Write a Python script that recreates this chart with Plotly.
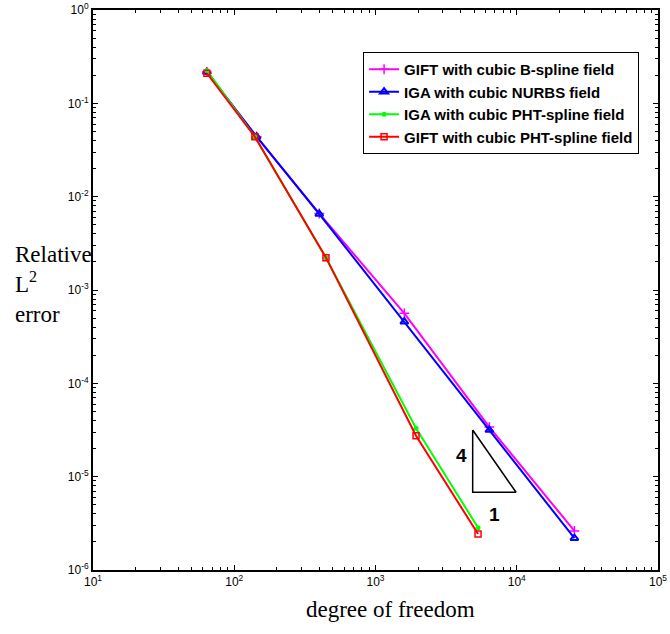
import plotly.graph_objects as go

# ---- data ----
dof_bspline = [64, 144, 400, 1600, 6400, 25600]
err_gift_bspline = [0.216, 0.0439, 6.6e-3, 5.62e-4, 3.40e-5, 2.62e-6]

dof_nurbs = [64, 144, 400, 1600, 6400, 25600]
err_iga_nurbs = [0.216, 0.0439, 6.52e-3, 4.57e-4, 3.16e-5, 2.19e-6]

dof_pht = [64, 140, 446, 1936, 5320]
err_iga_pht = [0.225, 0.0439, 2.22e-3, 3.30e-5, 2.84e-6]
err_gift_pht = [0.210, 0.0439, 2.22e-3, 2.75e-5, 2.43e-6]

names = ["GIFT with cubic B-spline field", "IGA with cubic NURBS field",
         "IGA with cubic PHT-spline field", "GIFT with cubic PHT-spline field"]

# slope triangle (data coordinates)
tri_x = [4875, 4875, 9886, 4875]
tri_y = [3.16e-5, 6.8e-6, 6.8e-6, 3.16e-5]

x_major = [10, 100, 1000, 10000, 100000]
x_labels = ["10<sup>1</sup>", "10<sup>2</sup>", "10<sup>3</sup>", "10<sup>4</sup>", "10<sup>5</sup>"]
y_major = [1e-6, 1e-5, 1e-4, 1e-3, 1e-2, 1e-1, 1]
y_labels = ["10<sup>-6</sup>", "10<sup>-5</sup>", "10<sup>-4</sup>", "10<sup>-3</sup>",
            "10<sup>-2</sup>", "10<sup>-1</sup>", "10<sup>0</sup>"]

x_minor = [m * d for d in [10, 100, 1000, 10000] for m in range(2, 10)]
y_minor = [m * d for d in [1e-6, 1e-5, 1e-4, 1e-3, 1e-2, 1e-1] for m in range(2, 10)]

fig = go.Figure()

fig.add_trace(go.Scatter(x=dof_bspline, y=err_gift_bspline, name=names[0], mode="lines+markers",
                         line=dict(color="#ff00ff", width=2),
                         marker=dict(symbol="cross-thin", size=7, line=dict(color="#ff00ff", width=1.5))))
fig.add_trace(go.Scatter(x=dof_nurbs, y=err_iga_nurbs, name=names[1], mode="lines+markers",
                         line=dict(color="#0000ff", width=2),
                         marker=dict(symbol="triangle-up-open", size=7, line=dict(color="#0000ff", width=2))))
fig.add_trace(go.Scatter(x=dof_pht, y=err_iga_pht, name=names[2], mode="lines+markers",
                         line=dict(color="#00ff00", width=2),
                         marker=dict(symbol="circle", size=5, color="#00ff00")))
fig.add_trace(go.Scatter(x=dof_pht, y=err_gift_pht, name=names[3], mode="lines+markers",
                         line=dict(color="#ff0000", width=2),
                         marker=dict(symbol="square-open", size=6, line=dict(color="#ff0000", width=1.5))))

fig.add_trace(go.Scatter(x=tri_x, y=tri_y, mode="lines", showlegend=False, hoverinfo="skip",
                         line=dict(color="black", width=1.5)))

fig.add_annotation(x=3.612, y=-4.77, xref="x", yref="y", text="<b>4</b>", showarrow=False,
                   font=dict(family="Liberation Sans", size=19, color="black"))
fig.add_annotation(x=3.845, y=-5.41, xref="x", yref="y", text="<b>1</b>", showarrow=False,
                   font=dict(family="Liberation Sans", size=19, color="black"))

axis_common = dict(type="log", showgrid=False, zeroline=False, showline=True, linecolor="black",
                   linewidth=2, mirror="ticks", ticks="inside", ticklen=5, tickwidth=1,
                   tickcolor="black", tickmode="array", automargin=False,
                   tickfont=dict(family="Liberation Sans", size=12, color="black"))

fig.update_xaxes(**axis_common, range=[1, 5], tickvals=x_major, ticktext=x_labels,
                 minor=dict(tickmode="array", tickvals=x_minor, ticks="inside", ticklen=3,
                            tickcolor="black", showgrid=False))
fig.update_yaxes(**axis_common, range=[-6, 0], tickvals=y_major, ticktext=y_labels,
                 minor=dict(tickmode="array", tickvals=y_minor, ticks="inside", ticklen=3,
                            tickcolor="black", showgrid=False))

fig.add_annotation(xref="paper", yref="paper", x=0.527, y=-0.0714, xanchor="center",
                   yanchor="middle", showarrow=False, text="degree of freedom",
                   font=dict(family="Liberation Serif", size=23, color="black"))

fig.add_annotation(xref="paper", yref="paper", x=-0.141, y=0.51, xanchor="left", yanchor="middle",
                   align="left", showarrow=False, text="Relative<br>L<sup>2</sup><br>error",
                   font=dict(family="Liberation Serif", size=23, color="black"))

fig.update_layout(
    width=670, height=634,
    margin=dict(l=93, r=12, t=10, b=64),
    paper_bgcolor="white", plot_bgcolor="white",
    showlegend=True,
    legend=dict(x=0.478, y=0.925, xanchor="left", yanchor="top",
                bgcolor="white", bordercolor="black", borderwidth=1,
                font=dict(family="Liberation Sans", size=15, color="black", weight="bold"),
                itemwidth=30, tracegroupgap=0),
)

fig.write_html("out.html")
